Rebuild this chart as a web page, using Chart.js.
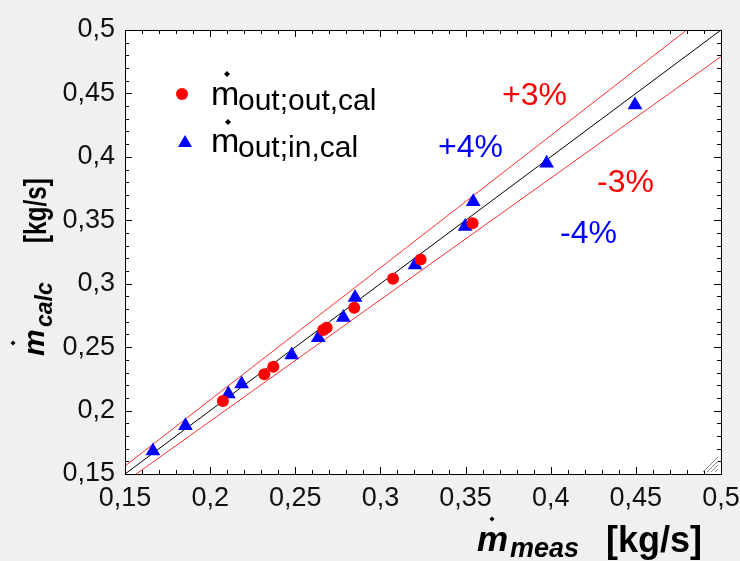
<!DOCTYPE html>
<html>
<head>
<meta charset="utf-8">
<script src="https://cdn.jsdelivr.net/npm/chart.js@4"></script>
<style>
  html, body { margin: 0; padding: 0; background: #f0f0f0; }
  #wrap { width: 740px; height: 561px; }
</style>
</head>
<body>
<div id="wrap"><canvas id="massChart" width="740" height="561"></canvas></div>
<script>
const outOutMeas = [0.2075, 0.2318, 0.2371, 0.2664, 0.2684, 0.2846, 0.3074, 0.3236, 0.3541];
const outOutCalc = [0.2075, 0.2286, 0.2346, 0.2635, 0.2653, 0.2810, 0.3040, 0.3190, 0.3477];
const outInMeas = [0.1664, 0.1855, 0.2107, 0.2185, 0.2479, 0.2635, 0.2782, 0.2851, 0.3203, 0.3497, 0.3545, 0.3976, 0.4495];
const outInCalc = [0.1681, 0.1880, 0.2130, 0.2209, 0.2438, 0.2574, 0.2734, 0.2892, 0.3147, 0.3451, 0.3647, 0.3950, 0.4409];

// diagonal and tolerance band
const refRange = [0.15, 0.5];
const bandFactors = [1.042, 0.958];

// axes
const axisMin = 0.15, axisMax = 0.5, majorStep = 0.05, minorStep = 0.01;

const fmt = v => (Math.round(v * 100) / 100).toString().replace('.', ',');
const FONT = '"Liberation Sans", Arial, sans-serif';

function txt(ctx, s, x, y, font, color) {
    ctx.font = font + ' ' + FONT;
    ctx.fillStyle = color || '#000';
    ctx.textAlign = 'left';
    ctx.textBaseline = 'alphabetic';
    ctx.fillText(s, x, y);
}

function dot(ctx, x, y, r) {
    ctx.fillStyle = '#000';
    ctx.beginPath();
    ctx.moveTo(x, y - r); ctx.lineTo(x + r, y); ctx.lineTo(x, y + r); ctx.lineTo(x - r, y);
    ctx.closePath();
    ctx.fill();
}

const decor = {
    id: 'decor',
    beforeDraw(chart) {
        const { ctx, chartArea: a } = chart;
        ctx.save();
        ctx.fillStyle = '#fff';
        ctx.fillRect(a.left, a.top, a.right - a.left, a.bottom - a.top);
        ctx.restore();
    },
    afterDraw(chart) {
        const { ctx, chartArea: a } = chart;
        const xs = chart.scales.x, ys = chart.scales.y;
        ctx.save();

        // inward ticks on all four sides
        ctx.strokeStyle = '#000';
        ctx.lineWidth = 1;
        ctx.beginPath();
        const n = Math.round((axisMax - axisMin) / minorStep);
        for (let i = 0; i <= n; i++) {
            const v = axisMin + i * minorStep;
            const len = i % 5 === 0 ? 7 : 4;
            const px = Math.round(xs.getPixelForValue(v)) + 0.5;
            ctx.moveTo(px, a.bottom); ctx.lineTo(px, a.bottom - len);
            ctx.moveTo(px, a.top); ctx.lineTo(px, a.top + len);
            const py = Math.round(ys.getPixelForValue(v)) + 0.5;
            ctx.moveTo(a.left, py); ctx.lineTo(a.left + len, py);
            ctx.moveTo(a.right, py); ctx.lineTo(a.right - len, py);
        }
        ctx.stroke();
        ctx.strokeRect(Math.round(a.left) + 0.5, Math.round(a.top) + 0.5,
            Math.round(a.right - a.left), Math.round(a.bottom - a.top));

        // resize grip
        ctx.strokeStyle = '#888';
        ctx.beginPath();
        for (let k = 0; k < 4; k++) {
            ctx.moveTo(a.right - 18 + k * 4, a.bottom - 2);
            ctx.lineTo(a.right - 3, a.bottom - 17 + k * 4);
        }
        ctx.stroke();

        // legend
        ctx.fillStyle = '#ff0000';
        ctx.beginPath(); ctx.arc(182, 94, 6, 0, Math.PI * 2); ctx.fill();
        ctx.fillStyle = '#0000ff';
        ctx.beginPath(); ctx.moveTo(185, 135); ctx.lineTo(192, 147); ctx.lineTo(178, 147); ctx.closePath(); ctx.fill();
        txt(ctx, 'm', 211, 105, '34px');
        txt(ctx, 'out;out,cal', 238, 110, '30px');
        dot(ctx, 227, 74, 3);
        txt(ctx, 'm', 211, 152, '34px');
        txt(ctx, 'out;in,cal', 238, 157, '30px');
        dot(ctx, 228, 122, 3);

        // band labels
        txt(ctx, '+3%', 502, 105, '32px', '#ff0000');
        txt(ctx, '+4%', 438, 157, '32px', '#0000ff');
        txt(ctx, '-3%', 597, 192, '32px', '#ff0000');
        txt(ctx, '-4%', 560, 243, '32px', '#0000ff');

        // x title
        txt(ctx, 'm', 477, 551, 'italic bold 35px');
        dot(ctx, 492, 519, 2.5);
        txt(ctx, 'meas', 510, 557, 'italic bold 27px');
        txt(ctx, '[kg/s]', 606, 552, 'bold 36px');

        // y title (rotated)
        const rot = (s, x, y, font, sx) => {
            ctx.save();
            ctx.translate(x, y);
            ctx.rotate(-Math.PI / 2);
            ctx.scale(sx || 1, 1);
            txt(ctx, s, 0, 0, font);
            ctx.restore();
        };
        rot('m', 44, 356, 'italic bold 30px');
        dot(ctx, 13, 343, 2.5);
        rot('calc', 52, 327, 'italic bold 23px');
        rot('[kg/s]', 46, 243, 'bold 32px', 0.76);

        ctx.restore();
    }
};

const ctx = document.getElementById('massChart');
const refPts = f => refRange.map(v => ({ x: v, y: v * f }));

new Chart(ctx, {
    type: 'scatter',
    data: {
        datasets: [
            {
                label: 'out;out,cal',
                data: outOutMeas.map((v, i) => ({ x: v, y: outOutCalc[i] })),
                backgroundColor: '#ff0000',
                borderWidth: 0,
                pointRadius: 6,
                pointStyle: 'circle'
            },
            {
                label: 'out;in,cal',
                data: outInMeas.map((v, i) => ({ x: v, y: outInCalc[i] })),
                backgroundColor: '#0000ff',
                borderWidth: 0,
                pointRadius: 8.5,
                pointStyle: 'triangle'
            },
            {
                label: 'diag',
                data: refPts(1),
                showLine: true,
                borderColor: '#000',
                borderWidth: 1,
                pointRadius: 0
            },
            {
                label: 'upper',
                data: refPts(bandFactors[0]),
                showLine: true,
                borderColor: '#ff3030',
                borderWidth: 1,
                pointRadius: 0
            },
            {
                label: 'lower',
                data: refPts(bandFactors[1]),
                showLine: true,
                borderColor: '#ff3030',
                borderWidth: 1,
                pointRadius: 0
            }
        ]
    },
    options: {
        responsive: false,
        animation: false,
        events: [],
        layout: { padding: { top: 30, right: 19, bottom: 0, left: 0 } },
        plugins: { legend: { display: false }, tooltip: { enabled: false } },
        scales: {
            x: {
                type: 'linear',
                min: axisMin,
                max: axisMax,
                grid: { display: false, drawTicks: false },
                border: { display: false },
                ticks: {
                    stepSize: majorStep,
                    padding: 8,
                    color: '#111',
                    font: { family: FONT, size: 27 },
                    callback: fmt
                },
                afterFit: s => { s.height = 87; s.paddingLeft = 0; s.paddingRight = 0; }
            },
            y: {
                type: 'linear',
                min: axisMin,
                max: axisMax,
                grid: { display: false, drawTicks: false },
                border: { display: false },
                ticks: {
                    stepSize: majorStep,
                    padding: 10,
                    color: '#111',
                    font: { family: FONT, size: 27 },
                    callback: fmt
                },
                afterFit: s => { s.width = 125; s.paddingTop = 0; s.paddingBottom = 0; }
            }
        }
    },
    plugins: [decor]
});
</script>
</body>
</html>
